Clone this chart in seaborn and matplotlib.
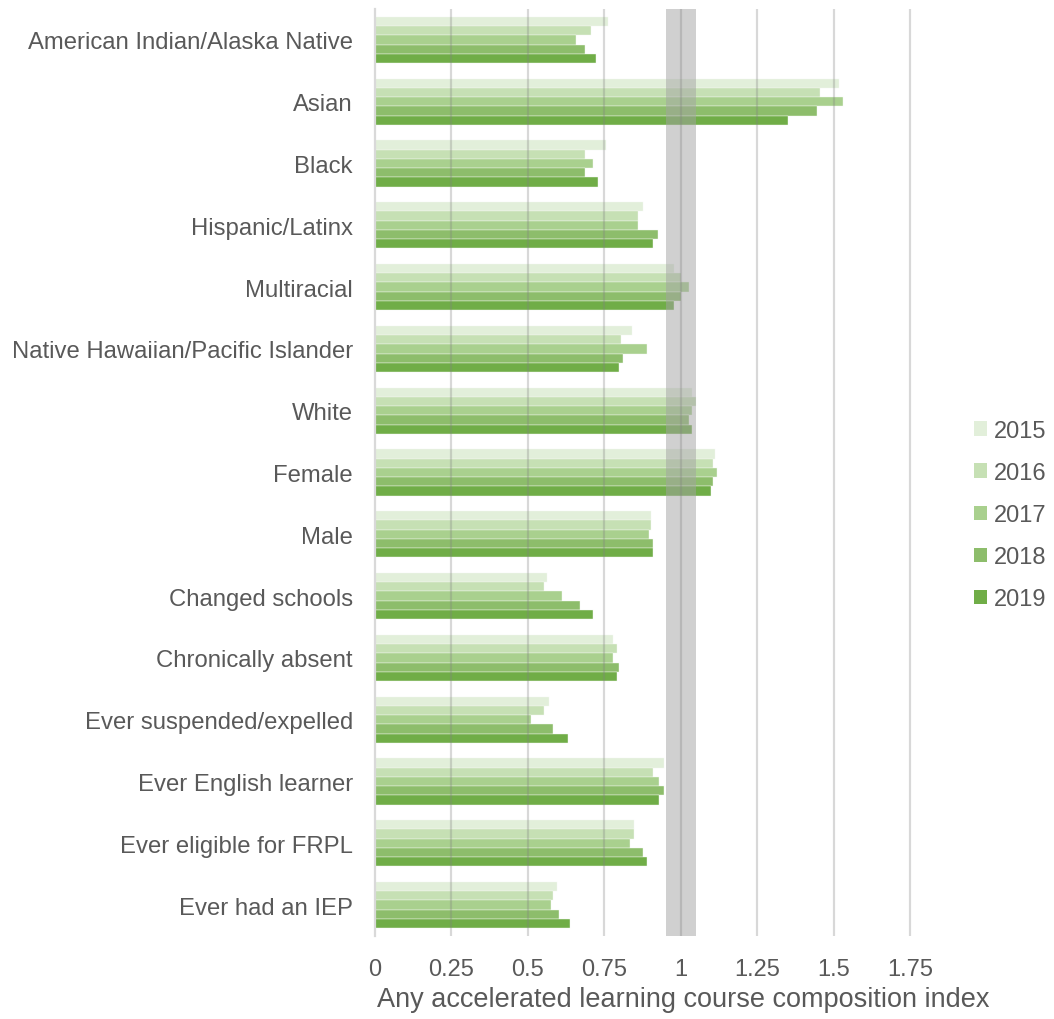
import matplotlib
matplotlib.use("Agg")
import matplotlib.pyplot as plt
from matplotlib.patches import Patch
import seaborn as sns
import pandas as pd

groups = [
    "American Indian/Alaska Native", "Asian", "Black", "Hispanic/Latinx",
    "Multiracial", "Native Hawaiian/Pacific Islander", "White", "Female",
    "Male", "Changed schools", "Chronically absent", "Ever suspended/expelled",
    "Ever English learner", "Ever eligible for FRPL", "Ever had an IEP",
]
years = ["2015", "2016", "2017", "2018", "2019"]

idx_2015 = [0.763, 1.517, 0.756, 0.875, 0.978, 0.840, 1.036, 1.111, 0.903, 0.561, 0.778, 0.568, 0.944, 0.846, 0.595]
idx_2016 = [0.707, 1.454, 0.687, 0.860, 1.001, 0.805, 1.049, 1.105, 0.903, 0.554, 0.791, 0.554, 0.909, 0.846, 0.581]
idx_2017 = [0.658, 1.531, 0.714, 0.860, 1.028, 0.889, 1.036, 1.119, 0.896, 0.610, 0.778, 0.511, 0.930, 0.833, 0.575]
idx_2018 = [0.687, 1.447, 0.687, 0.924, 1.001, 0.812, 1.028, 1.105, 0.909, 0.672, 0.798, 0.581, 0.944, 0.875, 0.603]
idx_2019 = [0.722, 1.349, 0.728, 0.909, 0.979, 0.798, 1.036, 1.098, 0.909, 0.714, 0.791, 0.630, 0.930, 0.889, 0.638]

x_ticks = [0, 0.25, 0.5, 0.75, 1, 1.25, 1.5, 1.75]
x_tick_labels = ["0", "0.25", "0.5", "0.75", "1", "1.25", "1.5", "1.75"]
parity_band = (0.95, 1.05)

colors = ["#e2efda", "#c6e0b4", "#a9d08e", "#8dbd6b", "#70ad47"]
text_color = "#595959"

rows = []
for yr, vals in zip(years, [idx_2015, idx_2016, idx_2017, idx_2018, idx_2019]):
    for g, v in zip(groups, vals):
        rows.append({"group": g, "year": yr, "value": v})
df = pd.DataFrame(rows)

sns.set_style("white")
plt.rcParams["font.family"] = ["Liberation Sans", "DejaVu Sans"]

fig = plt.figure(figsize=(10.54, 10.20), dpi=100)
ax = fig.add_axes([375 / 1054, 1 - 937 / 1020, (956 - 375) / 1054, 927 / 1020])

sns.barplot(
    data=df, x="value", y="group", hue="year", order=groups, hue_order=years,
    orient="h", palette=colors, saturation=1, width=0.75, errorbar=None,
    legend=False, edgecolor="#f4f8f1", linewidth=0.3, ax=ax,
)

ax.set_xlim(0, 1.9)
ax.set_ylim(len(groups) - 0.5, -0.5)

# shaded parity band around an index of 1
ax.axvspan(*parity_band, color="#a3a3a3", alpha=0.5, lw=0, zorder=4)

# vertical gridlines drawn over the bars
for t in x_ticks[1:]:
    ax.axvline(t, color="#808080", alpha=0.3, lw=1.6, zorder=5)

ax.set_xticks(x_ticks)
ax.set_xticklabels(x_tick_labels)
ax.tick_params(axis="both", length=0, labelsize=17, labelcolor=text_color)
ax.tick_params(axis="y", labelsize=17.2, pad=16)
ax.tick_params(axis="x", pad=16)
ax.set_xlabel("")
ax.set_ylabel("")

for side in ["top", "right", "bottom"]:
    ax.spines[side].set_visible(False)
ax.spines["left"].set_color("#d9d9d9")
ax.spines["left"].set_linewidth(1.6)
ax.spines["left"].set_zorder(6)

fig.text(683 / 1054, 1 - 1000 / 1020, "Any accelerated learning course composition index",
         ha="center", va="center", fontsize=19.5, color=text_color)

handles = [Patch(facecolor=c, edgecolor="none") for c in colors]
ax.legend(handles, years, loc="center left", bbox_to_anchor=(974 / 1054, 1 - 516 / 1020),
          bbox_transform=fig.transFigure, frameon=False, fontsize=17,
          labelcolor=text_color, handlelength=0.55, handleheight=0.55,
          handletextpad=0.3, labelspacing=0.85, borderpad=0, borderaxespad=0)

fig.savefig("out.png", dpi=100)
